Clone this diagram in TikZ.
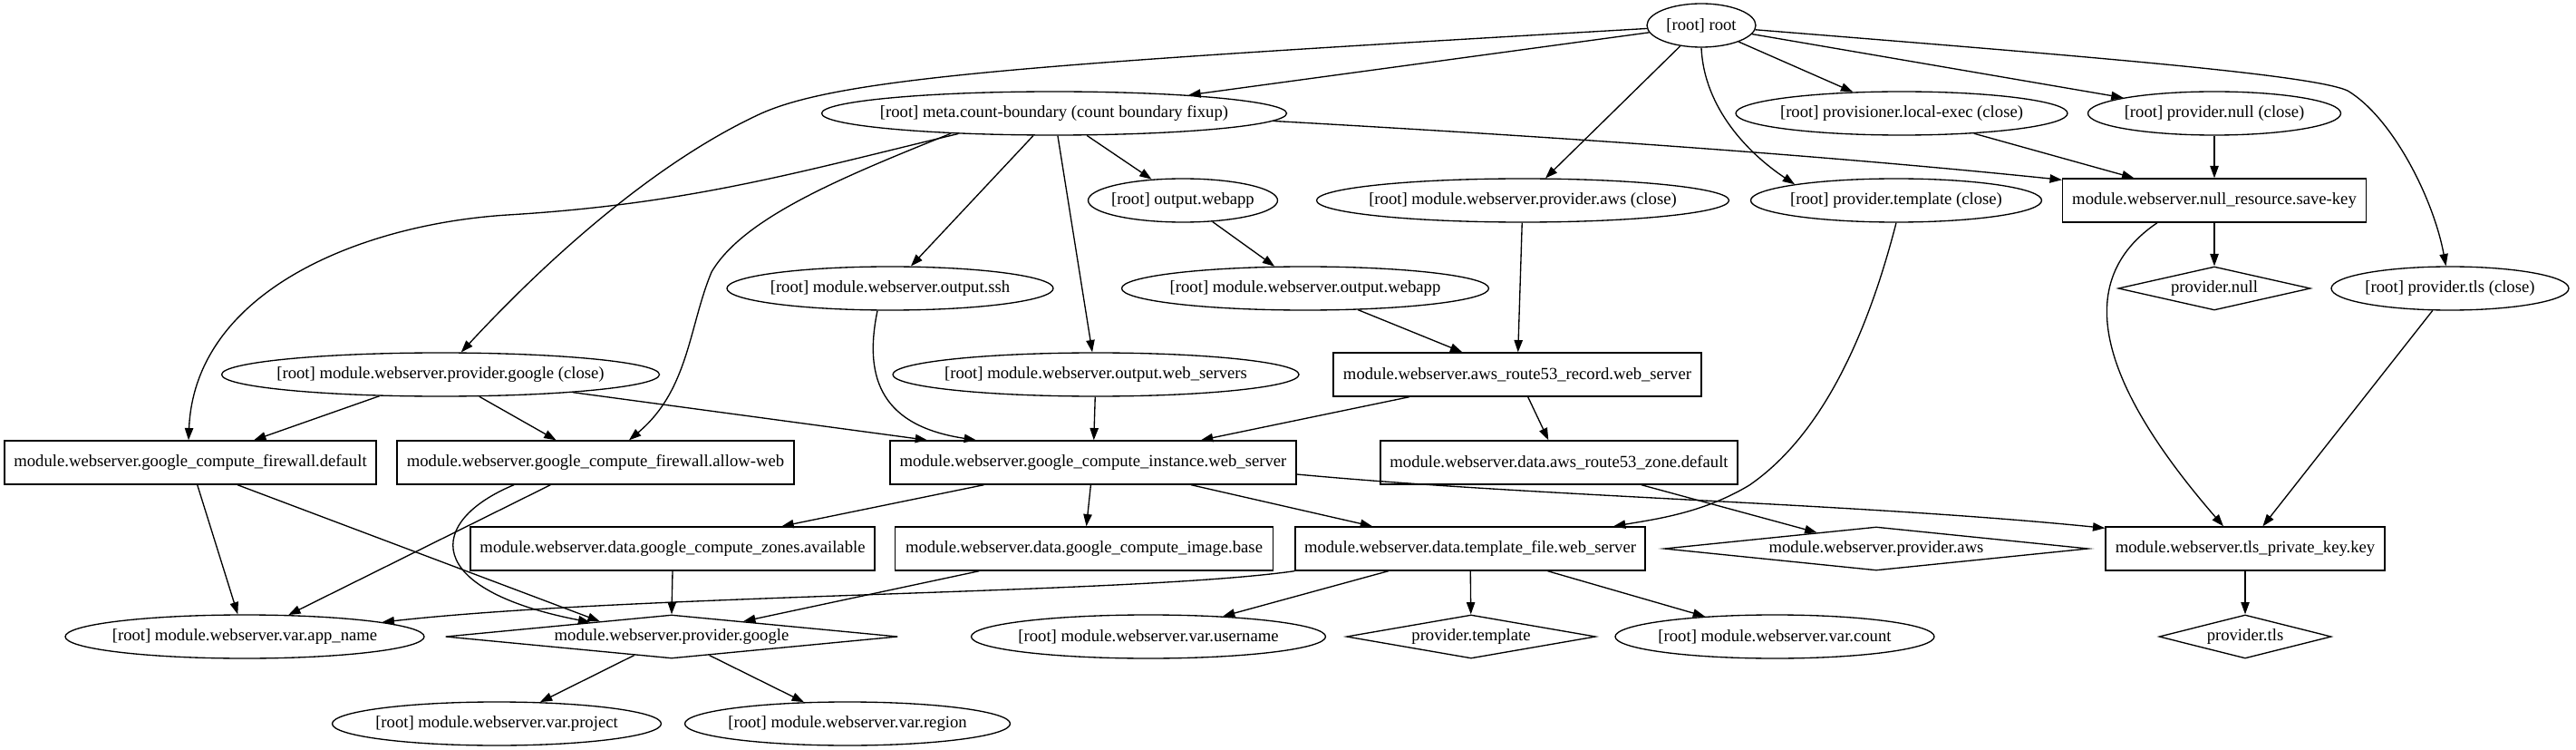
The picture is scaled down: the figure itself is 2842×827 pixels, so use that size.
\documentclass[tikz,border=0pt]{standalone}
\usepackage{fontspec}
\setmainfont{Liberation Serif}
\usetikzlibrary{shapes.geometric,arrows.meta}
\newcommand\gpx{*0.75pt}
\newcommand\zt[1]{\makebox[0pt][c]{#1}}
\begin{document}
\begin{tikzpicture}[x=0.75pt,y=-0.75pt,
  base/.style={draw=black, line width=1pt, inner sep=0pt, minimum height=36pt, font=\fontsize{14pt}{16pt}\selectfont},
  el/.style={base, ellipse},
  bx/.style={base, rectangle},
  dm/.style={base, diamond},
  wd/.style={minimum width=#1\gpx},
  arr/.style={draw=black, line width=1pt, -{Triangle[length=10pt,width=7pt]}},
]
\fill[white] (0,0) rectangle (2842,827);
\useasboundingbox (0,0) rectangle (2842,827);

% rank 1
\node[el, wd=120] (root) at (1877,28) {\zt{[root] root}};
% rank 2
\node[el, wd=513] (meta) at (1163,125) {\zt{[root] meta.count-boundary (count boundary fixup)}};
\node[el, wd=366] (localexec) at (2098,125) {\zt{[root] provisioner.local-exec (close)}};
\node[el, wd=279] (nullclose) at (2443,125) {\zt{[root] provider.null (close)}};
% rank 3
\node[el, wd=209] (owebapp) at (1305,221) {\zt{[root] output.webapp}};
\node[el, wd=455] (awsclose) at (1680,221) {\zt{[root] module.webserver.provider.aws (close)}};
\node[el, wd=321] (tplclose) at (2092,221) {\zt{[root] provider.template (close)}};
\node[bx, wd=335] (savekey) at (2443,221) {\zt{module.webserver.null\_resource.save-key}};
% rank 4
\node[el, wd=360] (ssh) at (982,318) {\zt{[root] module.webserver.output.ssh}};
\node[el, wd=405] (mowebapp) at (1440,318) {\zt{[root] module.webserver.output.webapp}};
\node[dm, wd=212] (pnull) at (2443,318) {\zt{provider.null}};
\node[el, wd=262] (tlsclose) at (2703,318) {\zt{[root] provider.tls (close)}};
% rank 5
\node[el, wd=483] (pgc) at (486,413) {\zt{[root] module.webserver.provider.google (close)}};
\node[el, wd=448] (websrv) at (1209,413) {\zt{[root] module.webserver.output.web\_servers}};
\node[bx, wd=406] (r53rec) at (1674,413) {\zt{module.webserver.aws\_route53\_record.web\_server}};
% rank 6
\node[bx, wd=410] (fwdef) at (210,510) {\zt{module.webserver.google\_compute\_firewall.default}};
\node[bx, wd=438] (fwallow) at (657,510) {\zt{module.webserver.google\_compute\_firewall.allow-web}};
\node[bx, wd=448] (ci) at (1206,510) {\zt{module.webserver.google\_compute\_instance.web\_server}};
\node[bx, wd=394] (r53zone) at (1720,510) {\zt{module.webserver.data.aws\_route53\_zone.default}};
% rank 7
\node[bx, wd=446] (zones) at (742,605) {\zt{module.webserver.data.google\_compute\_zones.available}};
\node[bx, wd=417] (image) at (1196,605) {\zt{module.webserver.data.google\_compute\_image.base}};
\node[bx, wd=386] (tpl) at (1622,605) {\zt{module.webserver.data.template\_file.web\_server}};
\node[dm, wd=468] (paws) at (2070,605) {\zt{module.webserver.provider.aws}};
\node[bx, wd=308] (tlskey) at (2477,605) {\zt{module.webserver.tls\_private\_key.key}};
% rank 8
\node[el, wd=396] (appname) at (270,702) {\zt{[root] module.webserver.var.app\_name}};
\node[dm, wd=499] (pgoogle) at (741,702) {\zt{module.webserver.provider.google}};
\node[el, wd=391] (username) at (1267,702) {\zt{[root] module.webserver.var.username}};
\node[dm, wd=275] (ptemplate) at (1623,702) {\zt{provider.template}};
\node[el, wd=352] (count) at (1958,702) {\zt{[root] module.webserver.var.count}};
\node[dm, wd=190] (ptls) at (2477,702) {\zt{provider.tls}};
% rank 9
\node[el, wd=363] (project) at (548,798) {\zt{[root] module.webserver.var.project}};
\node[el, wd=359] (region) at (935,798) {\zt{[root] module.webserver.var.region}};

% edges from root
\draw[arr] (root) -- (meta);
\draw[arr] (root) .. controls (1150,70) and (930,85) .. (840,125) .. controls (720,180) and (600,290) .. (pgc);
\draw[arr] (root) -- (awsclose);
\draw[arr] (root.south) .. controls (1880,120) and (1930,170) .. (tplclose.171);
\draw[arr] (root) -- (localexec);
\draw[arr] (root) -- (nullclose);
\draw[arr] (root) .. controls (2300,62) and (2550,82) .. (2590,100) .. controls (2640,130) and (2685,220) .. (tlsclose);

% edges from meta
\draw[arr] (meta.-168) .. controls (880,190) and (760,225) .. (560,237) .. controls (400,247) and (215,320) .. ([xshift=-2\gpx]fwdef.north);
\draw[arr] (meta.-169) .. controls (930,195) and (820,240) .. (785,300) .. controls (760,360) and (760,430) .. ([xshift=37\gpx]fwallow.north);
\draw[arr] (meta) -- (ssh);
\draw[arr] (meta) -- (websrv);
\draw[arr] (meta) -- (owebapp);
\draw[arr] (meta.-2) .. controls (1700,150) and (2000,170) .. ([yshift=-2\gpx]savekey.north west);

\draw[arr] (localexec) -- (savekey);
\draw[arr] (nullclose) -- (savekey);
\draw[arr] (awsclose) -- (r53rec);
\draw[arr] (owebapp) -- (mowebapp);
\draw[arr] (mowebapp) -- (r53rec);
\draw[arr] (tplclose.south) .. controls (2060,370) and (2010,480) .. (1930,535) .. controls (1880,565) and (1830,572) .. ([xshift=158\gpx]tpl.north);

\draw[arr] (savekey) -- (pnull);
\draw[arr] ([xshift=-63\gpx]savekey.south) .. controls (2270,320) and (2340,450) .. ([xshift=-24\gpx]tlskey.north);
\draw[arr] (tlsclose) -- (tlskey);
\draw[arr] (tlskey) -- (ptls);

\draw[arr] (pgc) -- (fwdef);
\draw[arr] (pgc) -- (fwallow);
\draw[arr] (pgc) -- (ci);
\draw[arr] ([xshift=-14\gpx]ssh.south) .. controls (952,420) and (975,470) .. ([xshift=-129\gpx]ci.north);
\draw[arr] (websrv) -- (ci);
\draw[arr] (r53rec) -- (ci);
\draw[arr] (r53rec) -- (r53zone);

\draw[arr] (fwdef) -- (appname);
\draw[arr] ([xshift=52\gpx]fwdef.south) -- (pgoogle.168);
\draw[arr] (fwallow) -- (appname);
\draw[arr] ([xshift=-90\gpx]fwallow.south) .. controls (470,575) and (465,650) .. (pgoogle.170);

\draw[arr] (ci) -- (zones);
\draw[arr] (ci) -- (image);
\draw[arr] (ci) -- (tpl);
\draw[arr] ([yshift=-13\gpx]ci.east) .. controls (1700,548) and (2050,555) .. ([yshift=-2\gpx]tlskey.north west);
\draw[arr] (r53zone) -- (paws);

\draw[arr] (zones.south) -- (pgoogle.north);
\draw[arr] (image) -- (pgoogle);
\draw[arr] (tpl.south west) .. controls (1250,655) and (700,655) .. (appname.6);
\draw[arr] (tpl) -- (username);
\draw[arr] (tpl) -- (ptemplate);
\draw[arr] (tpl) -- (count);

\draw[arr] (pgoogle) -- (project);
\draw[arr] (pgoogle) -- (region);
\end{tikzpicture}
\end{document}
